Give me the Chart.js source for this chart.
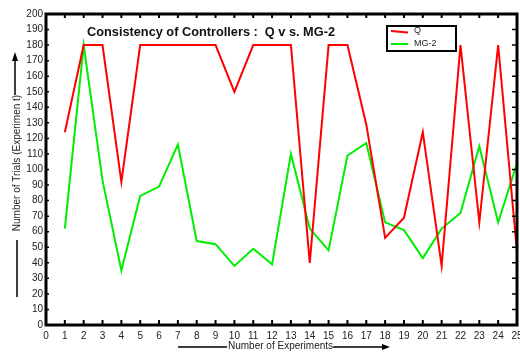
<!DOCTYPE html>
<html>
<head>
<meta charset="utf-8">
<script src="https://cdn.jsdelivr.net/npm/chart.js@4/dist/chart.umd.min.js"></script>
<style>
  body { margin: 0; background: #fff; }
  #wrap { width: 520px; height: 354px; }
</style>
</head>
<body>
<div id="wrap"><canvas id="chart" width="520" height="354"></canvas></div>
<script>
// values
const experiments = [1, 2, 3, 4, 5, 6, 7, 8, 9, 10, 11, 12, 13, 14, 15, 16, 17, 18, 19, 20, 21, 22, 23, 24, 25];
const qValues   = [124, 180, 180, 92, 180, 180, 180, 180, 180, 150, 180, 180, 180, 40, 180, 180, 129, 56, 69, 124, 38, 180, 66, 180, 47];
const mg2Values = [62, 180, 93, 35, 83, 89, 116, 54, 52, 38, 49, 39, 110, 62, 48, 109, 117, 66, 61, 43, 62, 72, 115, 66, 104];
const seriesNames = ["Q", "MG-2"];
const titleText = "Consistency of Controllers :  Q v s. MG-2";
const xTitle = "Number of Experiments";
const yTitle = "Number of Trials (Experimen t)";

const toPoints = (vals) => vals.map((v, i) => ({ x: experiments[i], y: v }));

// frame, inward ticks, titles, legend
const decorPlugin = {
  id: "decor",
  afterDatasetsDraw(chart) {
    const ctx = chart.ctx;
    const area = chart.chartArea;
    const xs = chart.scales.x;
    const ys = chart.scales.y;
    ctx.save();
    ctx.strokeStyle = "#000";

    // inward tick marks
    ctx.lineWidth = 2;
    for (let v = 1; v < 25; v++) {
      const px = xs.getPixelForValue(v);
      ctx.beginPath();
      ctx.moveTo(px, area.bottom); ctx.lineTo(px, area.bottom - 5);
      ctx.moveTo(px, area.top); ctx.lineTo(px, area.top + 4);
      ctx.stroke();
    }
    ctx.lineWidth = 1.5;
    for (let v = 10; v < 200; v += 10) {
      const py = ys.getPixelForValue(v);
      ctx.beginPath();
      ctx.moveTo(area.right, py); ctx.lineTo(area.right - 5, py);
      ctx.moveTo(area.left, py); ctx.lineTo(area.left + 3, py);
      ctx.stroke();
    }

    // frame
    ctx.lineWidth = 3;
    ctx.strokeRect(area.left, area.top, area.right - area.left, area.bottom - area.top);

    // chart title inside the plot
    ctx.fillStyle = "#111";
    ctx.font = "bold 13px 'Liberation Sans', Arial, sans-serif";
    ctx.textBaseline = "middle";
    const tw = ctx.measureText(titleText).width;
    ctx.save();
    ctx.translate(87, 32);
    ctx.scale(248 / tw, 1);
    ctx.fillText(titleText, 0, 0);
    ctx.restore();

    // legend box
    ctx.lineWidth = 2;
    ctx.strokeRect(387, 26, 69, 25);
    const colors = [chart.data.datasets[0].borderColor, chart.data.datasets[1].borderColor];
    ctx.font = "9px 'Liberation Sans', Arial, sans-serif";
    [31, 44].forEach((y, i) => {
      ctx.strokeStyle = colors[i];
      ctx.beginPath();
      ctx.moveTo(391, y); ctx.lineTo(408, y + (i === 0 ? 1.5 : 0));
      ctx.stroke();
      ctx.fillStyle = "#222";
      ctx.fillText(seriesNames[i], 414, y);
    });

    // x axis title with arrow
    ctx.strokeStyle = "#000";
    ctx.fillStyle = "#222";
    ctx.font = "10px 'Liberation Sans', Arial, sans-serif";
    ctx.textAlign = "left";
    ctx.fillText(xTitle, 228, 346);
    const xw = ctx.measureText(xTitle).width;
    ctx.lineWidth = 1.5;
    ctx.beginPath();
    ctx.moveTo(178, 347); ctx.lineTo(227, 347);
    ctx.moveTo(228 + xw, 347); ctx.lineTo(384, 347);
    ctx.stroke();
    ctx.beginPath();
    ctx.moveTo(390, 347); ctx.lineTo(382, 344); ctx.lineTo(382, 350); ctx.closePath();
    ctx.fillStyle = "#000";
    ctx.fill();

    // y axis title with arrow
    ctx.save();
    ctx.translate(17, 163);
    ctx.rotate(-Math.PI / 2);
    ctx.textAlign = "center";
    ctx.fillStyle = "#222";
    ctx.fillText(yTitle, 0, 0);
    ctx.restore();
    ctx.beginPath();
    ctx.moveTo(15, 95); ctx.lineTo(15, 60);
    ctx.moveTo(17, 240); ctx.lineTo(17, 297);
    ctx.stroke();
    ctx.beginPath();
    ctx.moveTo(15, 52); ctx.lineTo(12, 61); ctx.lineTo(18, 61); ctx.closePath();
    ctx.fillStyle = "#000";
    ctx.fill();

    ctx.restore();
  }
};

const tickFont = { family: "'Liberation Sans', Arial, sans-serif", size: 10 };

new Chart(document.getElementById("chart").getContext("2d"), {
  type: "line",
  data: {
    datasets: [
      {
        label: seriesNames[0],
        data: toPoints(qValues),
        borderColor: "#ff0000",
        borderWidth: 2,
        pointRadius: 0,
        tension: 0,
      },
      {
        label: seriesNames[1],
        data: toPoints(mg2Values),
        borderColor: "#00ee00",
        borderWidth: 2,
        pointRadius: 0,
        tension: 0,
      },
    ],
  },
  options: {
    responsive: false,
    animation: false,
    layout: { padding: { left: 0, right: 3, top: 14, bottom: 0 } },
    plugins: {
      legend: { display: false },
      tooltip: { enabled: false },
    },
    scales: {
      x: {
        type: "linear",
        min: 0,
        max: 25,
        grid: { display: false, drawTicks: false },
        border: { display: false },
        ticks: { stepSize: 1, padding: 5, color: "#222", font: tickFont, maxRotation: 0, autoSkip: false },
        afterFit(scale) {
          scale.height = 29;
          scale.paddingLeft = 0;
          scale.paddingRight = 0;
        },
      },
      y: {
        min: 0,
        max: 200,
        grid: { display: false, drawTicks: false },
        border: { display: false },
        ticks: { stepSize: 10, padding: 3, color: "#222", font: tickFont },
        afterFit(scale) {
          scale.width = 46;
          scale.paddingTop = 0;
          scale.paddingBottom = 0;
        },
      },
    },
  },
  plugins: [decorPlugin],
});
</script>
</body>
</html>
